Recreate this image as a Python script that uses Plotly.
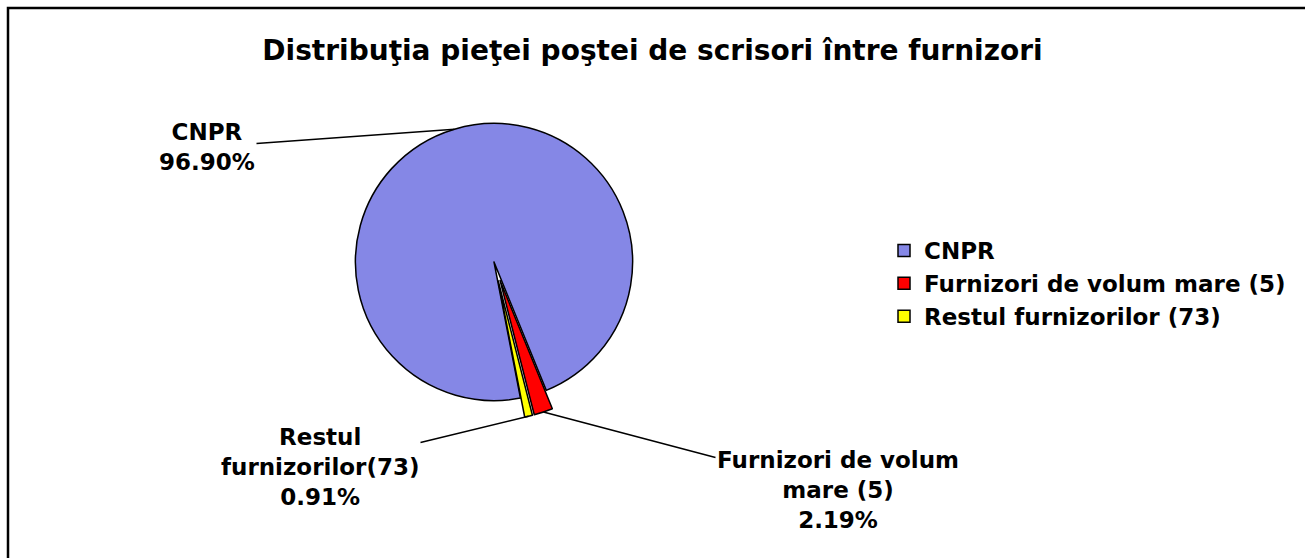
import math
import plotly.graph_objects as go

# ---- data ----
categories = ["CNPR", "Furnizori de volum mare (5)", "Restul furnizorilor (73)"]
label_texts = ["CNPR", "Furnizori de volum<br>mare (5)", "Restul<br>furnizorilor(73)"]
shares = [96.90, 2.19, 0.91]
colors = ["#8587e6", "#ff0000", "#ffff00"]
pulls = [0, 0.14, 0.14]

TITLE = "Distribuţia pieţei poştei de scrisori între furnizori"

W, H = 1305, 558
FONT = "DejaVu Sans"
ROTATION = 169

# pie geometry in pixels
cx, cy = 494, 262
r_dom = 158

fig = go.Figure()
fig.add_trace(go.Pie(
    labels=categories,
    values=shares,
    sort=False,
    direction="clockwise",
    rotation=ROTATION,
    pull=pulls,
    marker=dict(colors=colors, line=dict(color="black", width=1.5)),
    textinfo="none",
    hoverinfo="label+percent",
    domain=dict(x=[(cx - r_dom) / W, (cx + r_dom) / W],
                y=[1 - (cy + r_dom) / H, 1 - (cy - r_dom) / H]),
))

# label annotations with leader lines to each slice's mid-angle
R = r_dom / (1 + max(pulls))
text_pos = [(207, 147), (838, 490), (320, 467)]
total = sum(shares)
start = ROTATION
for i, v in enumerate(shares):
    span = 360 * v / total
    mid = start + span / 2
    start += span
    rr = R * (1 + pulls[i])
    tx = cx + rr * math.sin(math.radians(mid))
    ty = cy - rr * math.cos(math.radians(mid))
    fig.add_annotation(
        x=tx / W, y=1 - ty / H, xref="paper", yref="paper",
        text=f"<b>{label_texts[i]}<br>{v:.2f}%</b>",
        showarrow=True, arrowhead=0, arrowwidth=1.5, arrowcolor="black",
        ax=text_pos[i][0] - tx, ay=text_pos[i][1] - ty,
        font=dict(family=FONT, size=23, color="black"),
        align="center",
    )

fig.add_shape(type="rect", xref="paper", yref="paper",
              x0=8 / W, x1=1.02, y0=-0.02, y1=1 - 8 / H,
              line=dict(color="black", width=2.5))

fig.update_layout(
    width=W, height=H,
    margin=dict(l=0, r=0, t=0, b=0),
    paper_bgcolor="white",
    title=dict(text=f"<b>{TITLE}</b>", x=0.5, xanchor="center",
               y=1 - 50 / H, yanchor="middle",
               font=dict(family=FONT, size=28, color="black")),
    showlegend=True,
    legend=dict(x=884 / W, y=1 - 229 / H, xanchor="left", yanchor="top",
                font=dict(family=FONT, size=23, color="black", weight="bold"),
                bgcolor="rgba(0,0,0,0)"),
)

fig.write_html("out.html", config={"displayModeBar": False},
               post_script="document.body.style.margin='0';")
